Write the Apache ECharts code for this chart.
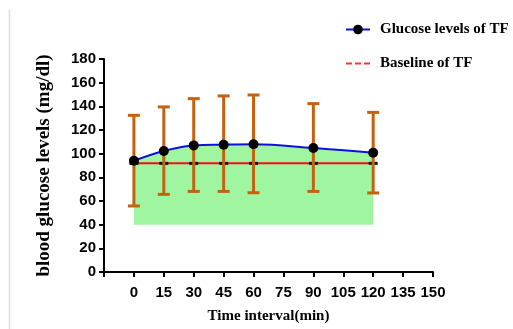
<!DOCTYPE html>
<html><head><meta charset="utf-8">
<script src="https://cdn.jsdelivr.net/npm/echarts@6/dist/echarts.min.js"></script>
<style>html,body{margin:0;padding:0;background:#fff}#c{width:513px;height:329px}</style>
</head><body><div id="c"></div>
<script>
const times = [0, 15, 30, 45, 60, 90, 120];
const glucose = [94, 102.3, 107, 107.6, 107.9, 104.8, 100.8];
const errUpper = [132.4, 139.5, 146.5, 148.8, 149.6, 142.3, 134.9];
const errLower = [55.8, 65.6, 68.1, 68.1, 67, 68.1, 66.8];
const baseline = [91.8, 91.8, 91.8, 91.8, 91.8, 91.8, 91.8];
const areaFloor = 40;
const xTicks = [0, 15, 30, 45, 60, 75, 90, 105, 120, 135, 150];
const yTicks = [0, 20, 40, 60, 80, 100, 120, 140, 160, 180];

const chart = echarts.init(document.getElementById('c'), null, {renderer: 'canvas'});
const lbl = {color: '#000', fontFamily: 'Liberation Sans, Arial', fontWeight: 'bold', fontSize: 15};
const serifB = {color: '#000', fontFamily: 'Liberation Serif, Times New Roman', fontWeight: 'bold', fontSize: 15};
chart.setOption({
  animation: false,
  grid: {left: 104, right: 80, top: 59, bottom: 57, containLabel: false},
  xAxis: {
    type: 'value', min: -15, max: 150, interval: 15,
    name: 'Time interval(min)', nameLocation: 'middle', nameGap: 37,
    nameTextStyle: Object.assign({}, serifB, {fontSize: 15}),
    axisLine: {lineStyle: {color: '#000', width: 2}},
    axisTick: {length: 5, lineStyle: {color: '#000', width: 2}},
    axisLabel: Object.assign({}, lbl, {margin: 13, formatter: v => xTicks.includes(v) ? String(v) : ''}),
    splitLine: {show: false}
  },
  yAxis: {
    type: 'value', min: 0, max: 180, interval: 20,
    name: 'blood glucose levels (mg/dl)', nameLocation: 'middle', nameGap: 50,
    nameTextStyle: Object.assign({}, serifB, {fontSize: 19}),
    axisLine: {show: true, onZero: false, lineStyle: {color: '#000', width: 2}},
    axisTick: {show: true, length: 5, lineStyle: {color: '#000', width: 2}},
    axisLabel: Object.assign({}, lbl, {margin: 8, formatter: v => yTicks.includes(v) ? String(v) : ''}),
    splitLine: {show: false}
  },
  legend: {
    orient: 'vertical', left: 340, top: 17, itemGap: 19, itemWidth: 24, itemHeight: 12,
    textStyle: Object.assign({}, serifB, {fontSize: 15, padding: [0, 0, 0, 5]}),
    data: [
      {name: 'Glucose levels of TF'},
      {name: 'Baseline of TF', icon: 'path://M0,5 L6,5 L6,7 L0,7 Z M9,5 L15,5 L15,7 L9,7 Z M18,5 L24,5 L24,7 L18,7 Z', itemStyle: {color: '#ff3333', borderWidth: 0}}
    ]
  },
  graphic: [{type: 'line', shape: {x1: 9.5, y1: 10, x2: 9.5, y2: 329}, style: {stroke: '#dcdcdc', lineWidth: 1.5}, silent: true}],
  series: [
    {
      name: 'area', type: 'line', smooth: 0.4, symbol: 'none',
      data: times.map((t, i) => [t, glucose[i]]),
      lineStyle: {width: 0, opacity: 0},
      areaStyle: {color: '#a0f5a0', opacity: 1, origin: areaFloor},
      z: 1, silent: true
    },
    {
      name: 'Baseline of TF', type: 'line', symbol: 'rect', symbolSize: [9, 3],
      data: times.map((t, i) => [t, baseline[i]]),
      lineStyle: {color: '#ee1111', width: 2},
      itemStyle: {color: '#111'}, z: 3
    },
    {
      name: 'errors', type: 'custom', z: 4, silent: true,
      data: times.map((t, i) => [t, errLower[i], errUpper[i]]),
      renderItem: function (params, api) {
        const lo = api.coord([api.value(0), api.value(1)]);
        const hi = api.coord([api.value(0), api.value(2)]);
        const hw = 6;
        const st = {stroke: '#c4620f', lineWidth: 3};
        return {type: 'group', children: [
          {type: 'line', shape: {x1: lo[0], y1: lo[1], x2: hi[0], y2: hi[1]}, style: st},
          {type: 'line', shape: {x1: hi[0] - hw, y1: hi[1], x2: hi[0] + hw, y2: hi[1]}, style: st},
          {type: 'line', shape: {x1: lo[0] - hw, y1: lo[1], x2: lo[0] + hw, y2: lo[1]}, style: st}
        ]};
      }
    },
    {
      name: 'Glucose levels of TF', type: 'line', smooth: 0.4, symbol: 'circle', symbolSize: 10,
      data: times.map((t, i) => [t, glucose[i]]),
      lineStyle: {color: '#1010dd', width: 2},
      itemStyle: {color: '#000'}, z: 5
    }
  ]
});
</script></body></html>
